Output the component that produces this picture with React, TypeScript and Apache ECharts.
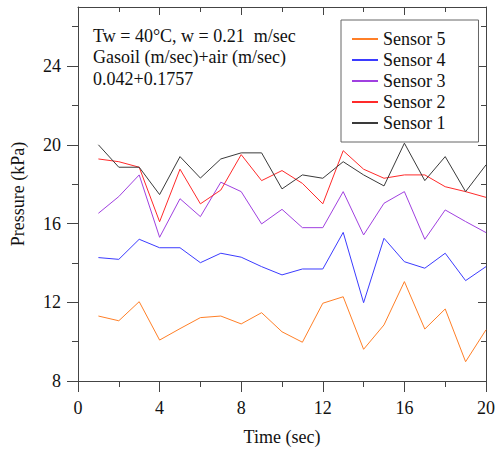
import React, { useEffect, useRef } from "react";
import * as echarts from "echarts";

const time = [1, 2, 3, 4, 5, 6, 7, 8, 9, 10, 11, 12, 13, 14, 15, 16, 17, 18, 19, 20];
const sensor1 = [20.0, 18.86, 18.86, 17.47, 19.4, 18.31, 19.28, 19.59, 19.59, 17.76, 18.47, 18.3, 19.14, 18.47, 17.91, 20.08, 18.18, 19.4, 17.62, 18.98];
const sensor2 = [19.28, 19.14, 18.86, 16.09, 18.76, 17.0, 17.7, 19.5, 18.18, 18.69, 18.04, 17.0, 19.7, 18.76, 18.3, 18.47, 18.47, 17.87, 17.62, 17.33];
const sensor3 = [16.52, 17.37, 18.47, 15.3, 17.26, 16.35, 18.1, 17.62, 15.98, 16.72, 15.79, 15.79, 17.62, 15.42, 17.03, 17.62, 15.2, 16.69, 16.1, 15.54];
const sensor4 = [14.27, 14.18, 15.2, 14.77, 14.77, 14.01, 14.49, 14.29, 13.81, 13.39, 13.69, 13.69, 15.55, 11.98, 15.25, 14.06, 13.73, 14.49, 13.1, 13.81];
const sensor5 = [11.3, 11.06, 12.03, 10.08, 10.66, 11.22, 11.3, 10.9, 11.47, 10.5, 9.97, 11.95, 12.28, 9.61, 10.85, 13.05, 10.64, 11.66, 8.98, 10.6];

const seriesNames = ["Sensor 5", "Sensor 4", "Sensor 3", "Sensor 2", "Sensor 1"];
const seriesValues = [sensor5, sensor4, sensor3, sensor2, sensor1];
const seriesColors = ["#ff7f27", "#3b3bff", "#a040e0", "#ff2a2a", "#3a3a3a"];

const yMajorTicks = [8, 12, 16, 20, 24];
const yMinorTicks = [10, 14, 18, 22, 26];
const annotation = ["Tw = 40°C, w = 0.21  m/sec", "Gasoil (m/sec)+air (m/sec)", "0.042+0.1757"];

const FONT = "'Liberation Serif', 'Times New Roman', serif";
const AXIS_COLOR = "#444";

export default function App() {
  const ref = useRef<HTMLDivElement>(null);
  useEffect(() => {
    if (!ref.current) return;
    const chart = echarts.init(ref.current, undefined, { renderer: "svg" });
    const yBase = { type: "value", min: 8, max: 27, splitLine: { show: false } };
    const option: any = {
      animation: false,
      backgroundColor: "#fff",
      textStyle: { fontFamily: FONT },
      grid: { left: 78, right: 6, top: 7, bottom: 70 },
      legend: {
        orient: "vertical",
        left: 341,
        top: 20,
        data: seriesNames,
        icon: "rect",
        itemWidth: 26,
        itemHeight: 2,
        itemGap: 3,
        padding: [10, 33, 10, 11],
        borderColor: "#666",
        borderWidth: 1,
        backgroundColor: "#fff",
        textStyle: { fontSize: 18, fontFamily: FONT, color: "#111", height: 18, lineHeight: 18 },
      },
      graphic: [
        {
          type: "text",
          left: 93,
          top: 25,
          style: {
            text: annotation.join("\n"),
            fontSize: 18,
            fontFamily: FONT,
            fill: "#111",
            lineHeight: 21.5,
          },
        },
      ],
      xAxis: [
        {
          type: "value",
          position: "bottom",
          min: 0,
          max: 20,
          interval: 4,
          splitLine: { show: false },
          axisLine: { lineStyle: { color: AXIS_COLOR } },
          axisTick: { length: 11, lineStyle: { color: AXIS_COLOR } },
          minorTick: { show: true, splitNumber: 2, length: 6, lineStyle: { color: AXIS_COLOR } },
          axisLabel: { fontSize: 18, fontFamily: FONT, color: "#111", margin: 18 },
          name: "Time (sec)",
          nameLocation: "middle",
          nameGap: 47,
          nameTextStyle: { fontSize: 18, fontFamily: FONT, color: "#111" },
        },
        {
          type: "value",
          position: "top",
          min: 0,
          max: 20,
          interval: 4,
          splitLine: { show: false },
          axisLine: { lineStyle: { color: AXIS_COLOR } },
          axisTick: { inside: true, length: 8, lineStyle: { color: AXIS_COLOR } },
          minorTick: { show: true, splitNumber: 2, length: 5, lineStyle: { color: AXIS_COLOR } },
          axisLabel: { show: false },
        },
      ],
      yAxis: [
        {
          ...yBase,
          position: "left",
          axisLine: { show: true, lineStyle: { color: AXIS_COLOR } },
          axisTick: { show: true, length: 11, customValues: yMajorTicks, lineStyle: { color: AXIS_COLOR } },
          axisLabel: { customValues: yMajorTicks, fontSize: 18, fontFamily: FONT, color: "#111", margin: 17 },
          name: "Pressure (kPa)",
          nameLocation: "middle",
          nameGap: 51,
          nameTextStyle: { fontSize: 18, fontFamily: FONT, color: "#111" },
        },
        {
          ...yBase,
          position: "left",
          axisLine: { show: false },
          axisTick: { show: true, length: 6, customValues: yMinorTicks, lineStyle: { color: AXIS_COLOR } },
          axisLabel: { show: false, customValues: yMinorTicks },
        },
        {
          ...yBase,
          position: "right",
          axisLine: { show: true, lineStyle: { color: AXIS_COLOR } },
          axisTick: { show: true, inside: true, length: 8, customValues: yMajorTicks, lineStyle: { color: AXIS_COLOR } },
          axisLabel: { show: false, customValues: yMajorTicks },
        },
        {
          ...yBase,
          position: "right",
          axisLine: { show: false },
          axisTick: { show: true, inside: true, length: 5, customValues: yMinorTicks, lineStyle: { color: AXIS_COLOR } },
          axisLabel: { show: false, customValues: yMinorTicks },
        },
      ],
      series: seriesNames.map((name, i) => ({
        name,
        type: "line",
        xAxisIndex: 0,
        yAxisIndex: 0,
        symbol: "none",
        color: seriesColors[i],
        lineStyle: { width: 1, color: seriesColors[i] },
        data: time.map((t, j) => [t, seriesValues[i][j]]),
        z: 2 + i,
      })),
    };
    chart.setOption(option);
    return () => chart.dispose();
  }, []);
  return (
    <div
      ref={ref}
      style={{ position: "fixed", left: 0, top: 0, width: 498, height: 451 }}
    />
  );
}
